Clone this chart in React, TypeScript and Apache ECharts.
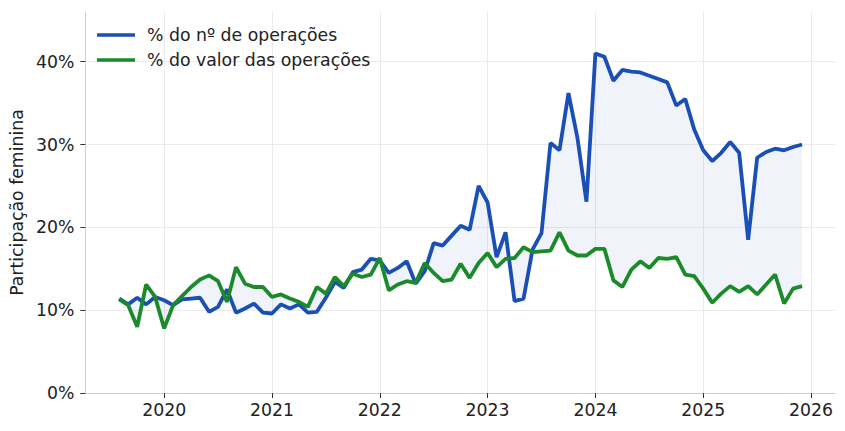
import React, { useEffect, useRef } from "react";
import * as echarts from "echarts";

const months: string[] = [
  "2019-08", "2019-09", "2019-10", "2019-11", "2019-12",
  "2020-01", "2020-02", "2020-03", "2020-04", "2020-05", "2020-06", "2020-07", "2020-08", "2020-09", "2020-10", "2020-11", "2020-12",
  "2021-01", "2021-02", "2021-03", "2021-04", "2021-05", "2021-06", "2021-07", "2021-08", "2021-09", "2021-10", "2021-11", "2021-12",
  "2022-01", "2022-02", "2022-03", "2022-04", "2022-05", "2022-06", "2022-07", "2022-08", "2022-09", "2022-10", "2022-11", "2022-12",
  "2023-01", "2023-02", "2023-03", "2023-04", "2023-05", "2023-06", "2023-07", "2023-08", "2023-09", "2023-10", "2023-11", "2023-12",
  "2024-01", "2024-02", "2024-03", "2024-04", "2024-05", "2024-06", "2024-07", "2024-08", "2024-09", "2024-10", "2024-11", "2024-12",
  "2025-01", "2025-02", "2025-03", "2025-04", "2025-05", "2025-06", "2025-07", "2025-08", "2025-09", "2025-10", "2025-11", "2025-12",
];

// % do nº de operações
const shareCount: number[] = [
  11.4, 10.7, 11.5, 10.7, 11.6,
  11.2, 10.6, 11.3, 11.4, 11.5, 9.8, 10.4, 12.5, 9.7, 10.2, 10.8, 9.7,
  9.6, 10.7, 10.2, 10.7, 9.7, 9.8, 11.5, 13.4, 12.7, 14.6, 14.9, 16.2,
  16.0, 14.5, 15.1, 15.9, 13.2, 14.7, 18.1, 17.8, 19.0, 20.2, 19.7, 25.0,
  23.0, 16.4, 19.4, 11.1, 11.4, 17.3, 19.3, 30.2, 29.3, 36.2, 30.8, 23.1,
  41.0, 40.6, 37.7, 39.0, 38.8, 38.7, 38.3, 37.9, 37.5, 34.7, 35.5, 31.8,
  29.3, 28.0, 29.0, 30.3, 29.0, 18.5, 28.4, 29.1, 29.5, 29.3, 29.7, 30.0,
];

// % do valor das operações
const shareValue: number[] = [
  11.3, 10.6, 8.0, 13.1, 11.6,
  7.8, 10.6, 11.7, 12.8, 13.7, 14.2, 13.5, 11.0, 15.2, 13.2, 12.8, 12.8,
  11.6, 11.9, 11.4, 11.0, 10.4, 12.8, 12.0, 14.0, 12.9, 14.4, 14.0, 14.3,
  16.3, 12.4, 13.1, 13.5, 13.3, 15.7, 14.5, 13.5, 13.7, 15.6, 13.9, 15.7,
  16.9, 15.2, 16.2, 16.3, 17.6, 17.0, 17.1, 17.2, 19.4, 17.2, 16.6, 16.6,
  17.4, 17.4, 13.6, 12.8, 14.9, 15.9, 15.1, 16.3, 16.2, 16.4, 14.3, 14.1,
  12.6, 10.9, 12.0, 12.9, 12.2, 12.9, 11.9, 13.1, 14.3, 10.8, 12.6, 12.9,
];

const yearTicks: number[] = [2020, 2021, 2022, 2023, 2024, 2025, 2026];
const pctTicks: number[] = [0, 10, 20, 30, 40];

const seriesNames: string[] = ["% do nº de operações", "% do valor das operações"];

const BLUE = "#1a4fb5";
const GREEN = "#1b8a2b";
const FONT = "DejaVu Sans";
const FS = 17.3;

export default function App() {
  const ref = useRef<HTMLDivElement>(null);

  useEffect(() => {
    if (!ref.current) return;
    const chart = echarts.init(ref.current, undefined, { renderer: "svg" });

    const xs = months.map((m) => {
      const [y, mo] = m.split("-").map(Number);
      return y + (mo - 1) / 12;
    });
    const blueData = xs.map((x, i) => [x, shareCount[i]]);
    const greenData = xs.map((x, i) => [x, shareValue[i]]);

    chart.setOption({
      animation: false,
      backgroundColor: "#ffffff",
      grid: { left: 84, right: 10, top: 12, bottom: 38, containLabel: false },
      legend: {
        data: seriesNames,
        orient: "vertical",
        left: 92,
        top: 20,
        icon: "rect",
        itemWidth: 38,
        itemHeight: 3.6,
        itemGap: 5,
        textStyle: {
          fontFamily: FONT,
          fontSize: FS,
          color: "#222222",
          padding: [0, 0, 0, 7],
          lineHeight: 20,
        },
      },
      xAxis: {
        type: "value",
        min: 2019.269,
        max: 2026.222,
        axisLine: { show: true, lineStyle: { color: "#cfcfcf", width: 1 } },
        axisTick: {
          show: true,
          length: 5,
          customValues: yearTicks,
          lineStyle: { color: "#333333" },
        },
        axisLabel: {
          customValues: yearTicks,
          formatter: (v: number) => String(Math.round(v)),
          fontFamily: FONT,
          fontSize: FS,
          color: "#222222",
          margin: 8,
        },
        splitLine: { show: true, lineStyle: { color: "#ebebeb", width: 1 } },
      },
      yAxis: {
        type: "value",
        min: 0,
        max: 46,
        name: "Participação feminina",
        nameLocation: "middle",
        nameGap: 57,
        nameTextStyle: { fontFamily: FONT, fontSize: FS, color: "#222222" },
        axisLine: { show: true, lineStyle: { color: "#cfcfcf", width: 1 } },
        axisTick: {
          show: true,
          length: 5,
          customValues: pctTicks,
          lineStyle: { color: "#333333" },
        },
        axisLabel: {
          customValues: pctTicks,
          formatter: (v: number) => `${Math.round(v)}%`,
          fontFamily: FONT,
          fontSize: FS,
          color: "#222222",
          margin: 11,
        },
        splitLine: { show: true, lineStyle: { color: "#ebebeb", width: 1 } },
      },
      series: [
        {
          type: "custom",
          name: "fill",
          z: 1,
          silent: true,
          data: [blueData[0]],
          encode: { x: 0, y: 1 },
          renderItem: (_params: any, api: any) => {
            const top = blueData.map((d) => api.coord(d));
            const bottom = greenData.map((d) => api.coord(d)).reverse();
            return {
              type: "polygon",
              shape: { points: top.concat(bottom) },
              style: { fill: "rgba(41,98,184,0.07)", stroke: "none" },
              silent: true,
            };
          },
        },
        {
          type: "line",
          name: seriesNames[0],
          data: blueData,
          symbol: "none",
          z: 3,
          lineStyle: { color: BLUE, width: 3.8 },
          itemStyle: { color: BLUE },
        },
        {
          type: "line",
          name: seriesNames[1],
          data: greenData,
          symbol: "none",
          z: 4,
          lineStyle: { color: GREEN, width: 3.8 },
          itemStyle: { color: GREEN },
        },
      ],
    });

    return () => chart.dispose();
  }, []);

  return (
    <div
      ref={ref}
      style={{ position: "absolute", left: 0, top: 0, width: 845, height: 431 }}
    />
  );
}
